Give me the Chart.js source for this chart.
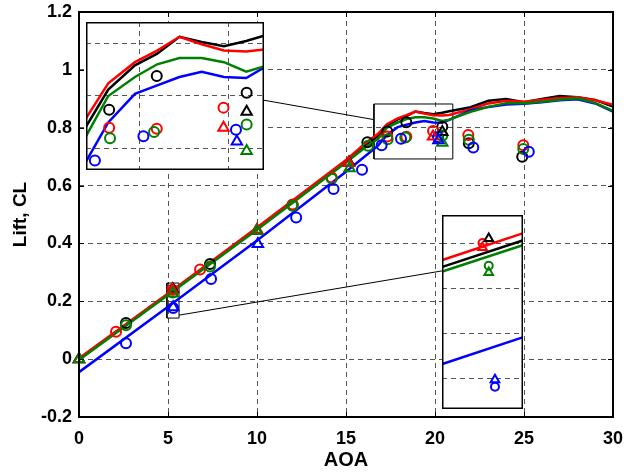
<!DOCTYPE html>
<html>
<head>
<meta charset="utf-8">
<script src="https://cdn.jsdelivr.net/npm/chart.js@4.4.0/dist/chart.umd.min.js"></script>
<style>
  html, body { margin: 0; padding: 0; background: #fff; }
  #wrap { position: relative; width: 626px; height: 472px; }
  #main { position: absolute; left: 0; top: 0; }
  .inset { position: absolute; background: #fff; }
  #inset1 { left: 86px; top: 22px; }
  #inset2 { left: 442px; top: 215px; }
</style>
</head>
<body>
<div id="wrap">
  <canvas id="main" width="626" height="472"></canvas>
  <canvas id="inset1" class="inset" width="178" height="148"></canvas>
  <canvas id="inset2" class="inset" width="81" height="194"></canvas>
</div>
<script>
// ---------------------------------------------------------------------------
// Data
// ---------------------------------------------------------------------------

const xTicks = [0, 5, 10, 15, 20, 25, 30];
const yTicks = [-0.2, 0, 0.2, 0.4, 0.6, 0.8, 1.0, 1.2];

// computed curves
const lineAoa   = [0, 5, 10, 15, 16, 16.8, 17.3, 17.9, 18.4, 18.9, 19.4, 19.9, 20.4, 20.8, 22, 23, 24, 25, 26, 27, 28, 29, 30];
const blackLine = [0.000, 0.224, 0.450, 0.685, 0.737, 0.771, 0.806, 0.829, 0.840, 0.856, 0.851, 0.847, 0.852, 0.857, 0.871, 0.893, 0.899, 0.888, 0.899, 0.910, 0.905, 0.896, 0.873];
const redLine   = [0.003, 0.227, 0.455, 0.688, 0.742, 0.779, 0.812, 0.832, 0.843, 0.856, 0.849, 0.843, 0.842, 0.844, 0.864, 0.884, 0.893, 0.890, 0.897, 0.903, 0.905, 0.895, 0.879];
const greenLine = [-0.003, 0.222, 0.447, 0.680, 0.728, 0.762, 0.800, 0.818, 0.830, 0.836, 0.836, 0.832, 0.823, 0.828, 0.855, 0.872, 0.885, 0.885, 0.890, 0.897, 0.902, 0.886, 0.858];
const blueLine  = [-0.045, 0.181, 0.410, 0.648, 0.698, 0.738, 0.775, 0.802, 0.810, 0.818, 0.823, 0.818, 0.817, 0.827, 0.860, 0.872, 0.880, 0.883, 0.888, 0.895, 0.898, 0.884, 0.856];

// circle markers
const blackCircAoa = [2.64, 7.36, 12.0, 16.2, 17.32, 18.39, 20.41, 21.9, 24.9];
const blackCircCl  = [0.125, 0.329, 0.533, 0.750, 0.787, 0.819, 0.803, 0.746, 0.700];
const redCircAoa   = [2.08, 5.25, 6.8, 12.0, 14.2, 17.32, 18.39, 19.89, 21.87, 24.96];
const redCircCl    = [0.095, 0.240, 0.310, 0.535, 0.628, 0.770, 0.769, 0.789, 0.775, 0.739];
const greenCircAoa = [2.64, 5.27, 7.36, 12.0, 14.2, 16.24, 17.34, 18.33, 20.41, 21.9, 24.96];
const greenCircCl  = [0.117, 0.230, 0.320, 0.530, 0.624, 0.738, 0.760, 0.766, 0.773, 0.758, 0.726];
const blueCircAoa  = [2.64, 5.29, 7.42, 12.2, 14.3, 15.9, 17.0, 18.09, 20.17, 22.15, 25.27];
const blueCircCl   = [0.055, 0.1765, 0.277, 0.490, 0.588, 0.655, 0.739, 0.762, 0.768, 0.732, 0.717];

// triangle markers
const blackTriAoa = [0, 5.27, 10.0, 15.17, 20.41];
const blackTriCl  = [0.0, 0.242, 0.445, 0.680, 0.785];
const redTriAoa   = [0, 5.25, 10.0, 15.15, 19.89];
const redTriCl    = [0.0, 0.238, 0.447, 0.678, 0.770];
const greenTriAoa = [0, 5.27, 10.0, 15.2, 20.41];
const greenTriCl  = [0.0, 0.227, 0.443, 0.660, 0.748];
const blueTriAoa  = [5.29, 10.05, 20.19];
const blueTriCl   = [0.1796, 0.398, 0.757];

// zoom boxes and their leader lines (data coordinates of the main axes)
const box1Aoa = [16.57, 21.0, 21.0, 16.57, 16.57];
const box1Cl  = [0.692, 0.692, 0.882, 0.882, 0.692];
const box2Aoa = [4.94, 5.62, 5.62, 4.94, 4.94];
const box2Cl  = [0.142, 0.142, 0.263, 0.263, 0.142];
const lead1Aoa = [10.3, 16.57];
const lead1Cl  = [0.896, 0.828];
const lead2Aoa = [5.62, 20.39];
const lead2Cl  = [0.152, 0.305];

// inset ranges and grid ticks
const inset1XRange = [16.8, 20.8];
const inset1YRange = [0.73, 0.87];
const inset1XTicks = [18, 20];
const inset1YTicks = [0.75, 0.8, 0.85];
const inset2XRange = [5.12, 5.38];
const inset2YRange = [0.1667, 0.2524];
const inset2YTicks = [0.18, 0.2, 0.22, 0.24];

// ---------------------------------------------------------------------------
// Helpers
// ---------------------------------------------------------------------------

const FONT = "'Liberation Sans', Arial, Helvetica, sans-serif";
const GRID_DASH = [5, 4];
const GRID_COLOR = "#555";

function pts(xs, ys) {
    return xs.map((x, i) => ({ x, y: ys[i] }));
}

function lineSet(xs, ys, color, order, width) {
    return {
        data: pts(xs, ys), showLine: true, borderColor: color, borderWidth: width,
        pointRadius: 0, fill: false, order,
    };
}

function markerSet(xs, ys, color, style, radius, order) {
    return {
        data: pts(xs, ys), showLine: false, pointStyle: style, pointRadius: radius,
        pointBorderColor: color, pointBackgroundColor: "rgba(0,0,0,0)",
        pointBorderWidth: 2, borderColor: color, order, clip: false,
    };
}

function seriesSets(lw, rc, rt) {
    return [
        lineSet(lineAoa, blackLine, "#000000", 13, lw),
        lineSet(lineAoa, redLine, "#ff0000", 12, lw),
        lineSet(lineAoa, blueLine, "#0000ff", 11, lw),
        lineSet(lineAoa, greenLine, "#008000", 10, lw),
        markerSet(blackCircAoa, blackCircCl, "#000000", "circle", rc, 8),
        markerSet(redCircAoa, redCircCl, "#ff0000", "circle", rc, 7),
        markerSet(greenCircAoa, greenCircCl, "#008000", "circle", rc, 6),
        markerSet(blueCircAoa, blueCircCl, "#0000ff", "circle", rc, 5),
        markerSet(blackTriAoa, blackTriCl, "#000000", "triangle", rt, 4),
        markerSet(redTriAoa, redTriCl, "#ff0000", "triangle", rt, 3),
        markerSet(greenTriAoa, greenTriCl, "#008000", "triangle", rt, 2),
        markerSet(blueTriAoa, blueTriCl, "#0000ff", "triangle", rt, 1),
    ];
}

// no automatic label padding: the plot box is placed by layout.padding only
function noPad(axis) {
    axis.paddingLeft = 0;
    axis.paddingRight = 0;
    axis.paddingTop = 0;
    axis.paddingBottom = 0;
}

// box round the plot area with Matlab-style inward ticks
const boxPlugin = {
    id: "box",
    afterDraw(chart, args, opts) {
        const { ctx, chartArea: a, scales } = chart;
        ctx.save();
        ctx.strokeStyle = "#000";
        ctx.lineWidth = opts.width || 1;
        const h = ctx.lineWidth / 2;
        if (opts.inside) {
            ctx.strokeRect(a.left + h, a.top + h, a.right - a.left - 2 * h, a.bottom - a.top - 2 * h);
        } else {
            ctx.strokeRect(a.left, a.top, a.right - a.left, a.bottom - a.top);
        }
        if (opts.ticks) {
            ctx.lineWidth = 1;
            ctx.beginPath();
            scales.x.ticks.forEach((t) => {
                const px = Math.round(scales.x.getPixelForValue(t.value)) + 0.5;
                ctx.moveTo(px, a.bottom); ctx.lineTo(px, a.bottom - 5);
                ctx.moveTo(px, a.top); ctx.lineTo(px, a.top + 5);
            });
            scales.y.ticks.forEach((t) => {
                const py = Math.round(scales.y.getPixelForValue(t.value)) + 0.5;
                ctx.moveTo(a.left, py); ctx.lineTo(a.left + 5, py);
                ctx.moveTo(a.right, py); ctx.lineTo(a.right - 5, py);
            });
            ctx.stroke();
        }
        ctx.restore();
    },
};

// ---------------------------------------------------------------------------
// Main chart
// ---------------------------------------------------------------------------

const guides = [
    lineSet(box1Aoa, box1Cl, "#000000", 20, 1),
    lineSet(box2Aoa, box2Cl, "#000000", 20, 1),
    lineSet(lead1Aoa, lead1Cl, "#000000", 20, 1),
    lineSet(lead2Aoa, lead2Cl, "#000000", 20, 1),
];

new Chart(document.getElementById("main"), {
    type: "scatter",
    data: { datasets: [...seriesSets(2.5, 5, 6), ...guides] },
    options: {
        responsive: false,
        animation: false,
        layout: { autoPadding: false, padding: { top: 12, right: 13, left: 0, bottom: 0 } },
        plugins: { legend: { display: false }, tooltip: { enabled: false }, box: { width: 2, ticks: true } },
        scales: {
            x: {
                type: "linear", min: 0, max: 30,
                afterBuildTicks: (axis) => { axis.ticks = xTicks.map((v) => ({ value: v })); },
                afterFit: (axis) => { axis.height = 55; noPad(axis); },
                ticks: { color: "#000", font: { family: FONT, size: 18, weight: "bold" }, padding: 11, maxRotation: 0 },
                grid: { color: GRID_COLOR, lineWidth: 1, drawTicks: false },
                border: { display: false, dash: GRID_DASH },
                title: { display: true, text: "AOA", color: "#000", font: { family: FONT, size: 20, weight: "bold" }, padding: { top: 0, bottom: 0 } },
            },
            y: {
                type: "linear", min: -0.2, max: 1.2,
                afterBuildTicks: (axis) => { axis.ticks = yTicks.map((v) => ({ value: v })); },
                afterFit: (axis) => { axis.width = 79; noPad(axis); },
                ticks: {
                    color: "#000", font: { family: FONT, size: 18, weight: "bold" }, padding: 7,
                    callback: (v) => String(Number(v.toFixed(1))),
                },
                grid: { color: GRID_COLOR, lineWidth: 1, drawTicks: false },
                border: { display: false, dash: GRID_DASH },
                title: { display: true, text: "Lift, CL", color: "#000", font: { family: FONT, size: 19, weight: "bold" }, padding: { top: 9, bottom: 0 } },
            },
        },
    },
    plugins: [boxPlugin],
});

// ---------------------------------------------------------------------------
// Insets
// ---------------------------------------------------------------------------

function makeInset(id, xr, yr, xt, yt, rc, rt) {
    new Chart(document.getElementById(id), {
        type: "scatter",
        data: { datasets: seriesSets(2.5, rc, rt) },
        options: {
            responsive: false,
            animation: false,
            layout: { autoPadding: false, padding: 0 },
            plugins: { legend: { display: false }, tooltip: { enabled: false }, box: { width: 1.5, inside: true } },
            scales: {
                x: {
                    type: "linear", min: xr[0], max: xr[1],
                    afterBuildTicks: (axis) => { axis.ticks = xt.map((v) => ({ value: v })); },
                    afterFit: (axis) => { axis.height = 0; noPad(axis); },
                    ticks: { display: false },
                    grid: { display: xt.length > 0, color: GRID_COLOR, drawTicks: false },
                    border: { display: false, dash: GRID_DASH },
                },
                y: {
                    type: "linear", min: yr[0], max: yr[1],
                    afterBuildTicks: (axis) => { axis.ticks = yt.map((v) => ({ value: v })); },
                    afterFit: (axis) => { axis.width = 0; noPad(axis); },
                    ticks: { display: false },
                    grid: { color: GRID_COLOR, drawTicks: false },
                    border: { display: false, dash: GRID_DASH },
                },
            },
        },
        plugins: [boxPlugin],
    });
}

makeInset("inset1", inset1XRange, inset1YRange, inset1XTicks, inset1YTicks, 5, 6);
makeInset("inset2", inset2XRange, inset2YRange, [], inset2YTicks, 4, 5);
</script>
</body>
</html>
